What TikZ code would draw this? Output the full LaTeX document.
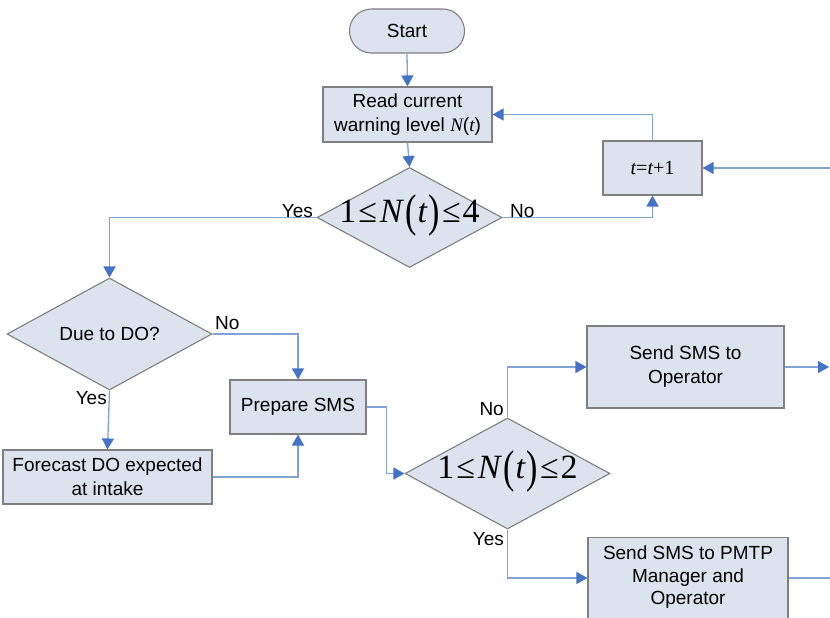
\documentclass[tikz,border=0pt]{standalone}
\usepackage{fontspec}
\usepackage{graphicx}
\setmainfont{Liberation Sans}
\newfontfamily\tms{Liberation Serif}
\usetikzlibrary{arrows.meta,shapes.geometric,positioning}
\definecolor{boxfill}{HTML}{DDE3EE}
\definecolor{boxline}{HTML}{7F7F7F}
\definecolor{conn}{HTML}{7FA3D3}
\definecolor{tip}{HTML}{4472C4}
\newcommand{\tallpar}[1]{\raisebox{-0.12em}{\scalebox{1}[1.35]{#1}}}
\newcommand{\cond}[1]{{\tms 1\kern2pt≤\kern3pt\textit{N}\kern1pt\tallpar{(}\kern1pt\textit{t}\kern1pt\tallpar{)}\kern2pt≤\kern2pt#1}}
\tikzset{
  boxnode/.style={draw=boxline,fill=boxfill,line width=1.1pt,align=center,font=\fontsize{19}{24}\selectfont,inner sep=0pt},
  decnode/.style={draw=boxline,fill=boxfill,line width=1.1pt,diamond,aspect=1.85,inner sep=0pt,align=center},
  conline/.style={draw=conn,line width=1.3pt,-{Triangle[length=11pt,width=12pt,color=tip]}},
  plainline/.style={draw=conn,line width=1.3pt},
  lbl/.style={font=\fontsize{19}{22}\selectfont,inner sep=1pt},
  formula/.style={font=\fontsize{34}{36}\selectfont,inner sep=0pt}
}
\begin{document}
\begin{tikzpicture}[x=1pt,y=-1pt]
\useasboundingbox (0,0) rectangle (830,618);
\fill[white] (0,0) rectangle (830,618);
\begin{scope}
\clip (0,0) rectangle (830,618);
% nodes
\node[boxnode,rounded corners=22pt,minimum width=115pt,minimum height=44pt] (start) at (407,31) {Start};
\node[boxnode,minimum width=169pt,minimum height=55pt] (read) at (407.5,114.5) {Read current\\warning level {\tms\itshape N}({\tms\itshape t})};
\node[decnode,minimum width=185pt,minimum height=100pt] (d1) at (409.5,217.5) {};
\node[formula] at ([yshift=2pt]d1.center) {\cond{4}};
\node[boxnode,minimum width=99pt,minimum height=54pt] (inc) at (652.5,168) {\tms\fontsize{20}{20}\selectfont\itshape t\upshape=\itshape t\upshape+1};
\node[decnode,minimum width=205pt,minimum height=112pt] (due) at (109.5,334) {};
\node[font=\fontsize{19}{24}\selectfont] at (due) {Due to DO?};
\node[boxnode,minimum width=136pt,minimum height=54pt] (prep) at (298,407) {Prepare SMS};
\node[boxnode,minimum width=209pt,minimum height=54pt] (fore) at (107.5,477) {Forecast DO expected\\at intake};
\node[decnode,minimum width=205pt,minimum height=111pt] (d2) at (507.5,473.5) {};
\node[formula] at ([yshift=2pt]d2.center) {\cond{2}};
\node[boxnode,minimum width=197pt,minimum height=82pt] (op) at (685.5,367) {Send SMS to\\Operator};
\node[boxnode,minimum width=200pt,minimum height=90pt,anchor=north] (pmtp) at (688,537) {};
\node[font=\fontsize{19}{22.5}\selectfont,align=center] at (688,577.5) {Send SMS to PMTP\\Manager and\\Operator};
% coordinates
\coordinate (rin) at (830,168);
\coordinate (oout) at (829,367);
\coordinate (pout) at (830,578);
% connectors
\draw[conline] (start.south) -- (read.north);
\draw[conline] (read.south) -- (d1.north);
\draw[conline] (inc.north) |- (read.east);
\draw[conline] (d1.east) -| (inc.south);
\draw[conline] (rin) -- (inc.east);
\draw[conline] (d1.west) -| (due.north);
\draw[conline] (due.east) -| (prep.north);
\draw[conline] (due.south) -- (fore.north);
\draw[conline] (fore.east) -| (prep.south);
\draw[conline] (prep.east) -- ++(20,0) |- (d2.west);
\draw[conline] (d2.north) |- (op.west);
\draw[conline] (d2.south) |- (pmtp.west |- 0,578);
\draw[conline] (op.east) -- (oout);
\draw[plainline] (pmtp.east |- 0,578) -- (pout);
% labels
\node[lbl,anchor=south east] at (314,219) {Yes};
\node[lbl,anchor=south west] at (509,219) {No};
\node[lbl,anchor=south west] at (214,331) {No};
\node[lbl,anchor=north east] at (108,390) {Yes};
\node[lbl,anchor=south east] at (505,417) {No};
\node[lbl,anchor=north east] at (505,531) {Yes};
\end{scope}
\end{tikzpicture}
\end{document}
